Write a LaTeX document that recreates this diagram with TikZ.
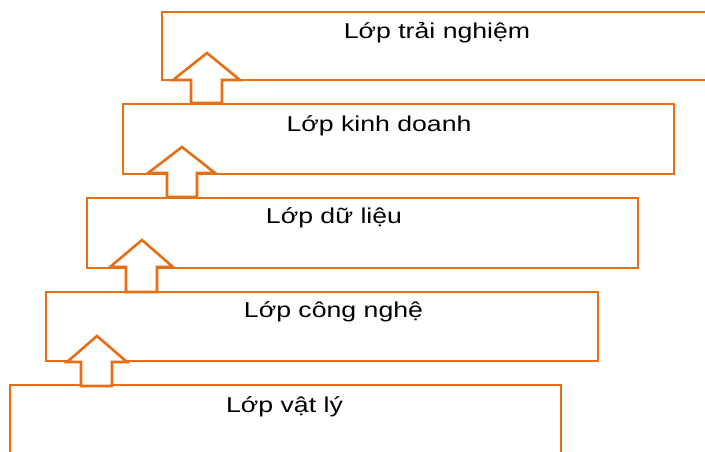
\documentclass[tikz,border=0pt]{standalone}
\usepackage{fontspec}
\setmainfont{Liberation Sans}
\definecolor{arancio}{RGB}{230,110,20}
\tikzset{
  livello/.style={draw=arancio, line width=2.6pt},
  freccia/.style={draw=arancio, fill=white, line width=2.6pt, line join=miter},
  etichetta/.style={anchor=base, xscale=1.24, font=\fontsize{21.5}{26}\selectfont}
}
\begin{document}
\begin{tikzpicture}[x=1pt,y=-1pt]
        \useasboundingbox (0,0) rectangle (705,451);
        \clip (0,0) rectangle (705,451);

        % Rettangoli dei livelli
        \draw[livello] (162,12) rectangle (730,80);
        \draw[livello] (123,104) rectangle (674,174);
        \draw[livello] (87,198) rectangle (638,268);
        \draw[livello] (46,292) rectangle (598,361);
        \draw[livello] (10,385) rectangle (561,470);

        % Frecce verso l'alto
        \draw[freccia] (191,103) -- (191,80) -- (173,80) -- (207,53) -- (240,80) -- (222,80) -- (222,103) -- cycle;
        \draw[freccia] (167,197) -- (167,173) -- (148,173) -- (182,147) -- (215,173) -- (197,173) -- (197,197) -- cycle;
        \draw[freccia] (126,292) -- (126,267) -- (110,267) -- (142,240) -- (173,267) -- (157,267) -- (157,292) -- cycle;
        \draw[freccia] (81,386) -- (81,362) -- (67,362) -- (97,336) -- (127,362) -- (112,362) -- (112,386) -- cycle;

        % Testi dei livelli
        \node[etichetta] (esperienza) at (437,38) {Lớp trải nghiệm};
        \node[etichetta] (affari) at (379,131) {Lớp kinh doanh};
        \node[etichetta] (dati) at (334,223) {Lớp dữ liệu};
        \node[etichetta] (tecnologia) at (333.5,317) {Lớp công nghệ};
        \node[etichetta] (fisico) at (284.5,412) {Lớp vật lý};
      \end{tikzpicture}
\end{document}
